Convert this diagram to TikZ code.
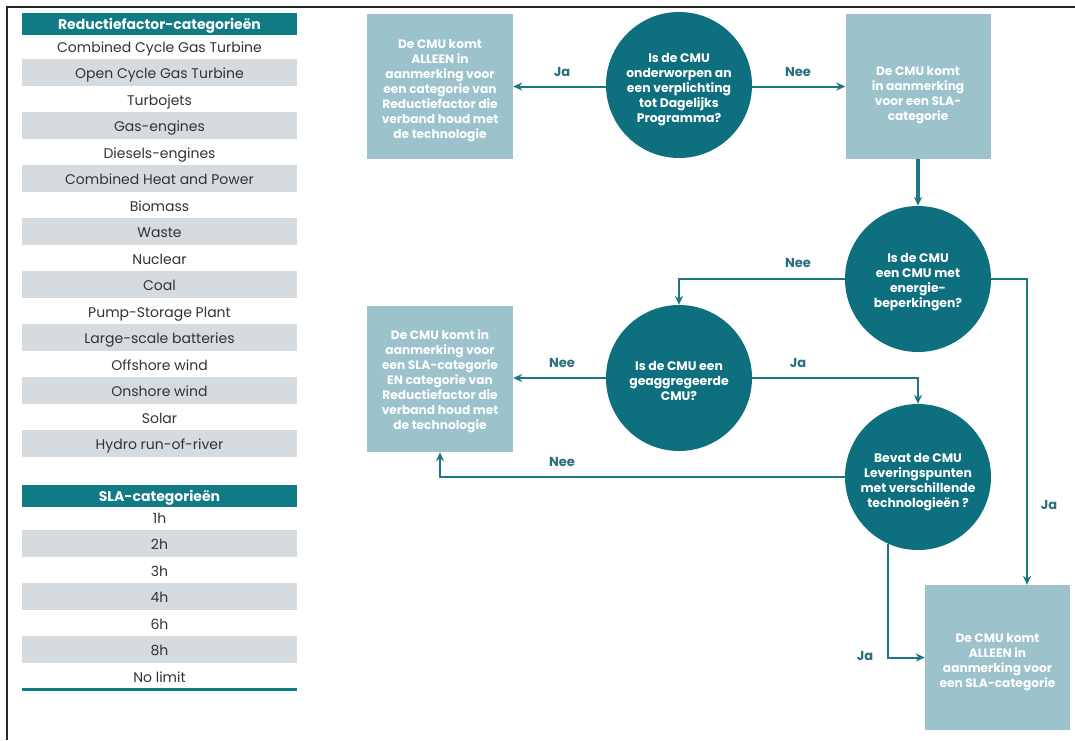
\documentclass[tikz,border=0pt]{standalone}
\usepackage{fontspec}
\setmainfont{Poppins}
\usepackage{tikz}
\usetikzlibrary{positioning,calc,shapes,arrows.meta}

\definecolor{tealdark}{HTML}{0E6F7E}
\definecolor{tealline}{HTML}{1B7686}
\definecolor{boxblue}{HTML}{9CC2CB}
\definecolor{rowgray}{HTML}{D6DBE0}
\definecolor{headteal}{HTML}{107A85}
\definecolor{labteal}{HTML}{2A6F7D}
\definecolor{rowtext}{HTML}{333333}

% extra room above the first line of a flowchart text
\newcommand{\flowgap}[1]{\rule{0pt}{#1}}

\begin{document}
\begin{tikzpicture}[x=1pt, y=-1pt,
	question/.style={circle, fill=tealdark, text=white, minimum size=146pt, inner sep=0pt, align=center, font=\fontsize{12.4}{15}\selectfont\bfseries},
	answer/.style={rectangle, fill=boxblue, text=white, minimum width=146pt, minimum height=145pt, inner sep=0pt, align=center, font=\fontsize{12.2}{15}\selectfont\bfseries},
	tabhead/.style={fill=headteal, text=white, minimum width=275pt, minimum height=22pt, inner sep=0pt, text height=12pt, text depth=1pt, font=\fontsize{14}{16}\selectfont\bfseries},
	tabrow/.style={minimum width=275pt, minimum height=26.5pt, inner sep=0pt, text height=13pt, text depth=0.5pt, text=rowtext, font=\fontsize{14}{16}\selectfont},
	tabgray/.style={tabrow, fill=rowgray},
	flow/.style={draw=tealline, line width=2pt, ->},
	yesno/.style={text=labteal, font=\fontsize{13}{15}\selectfont\bfseries},
	>={Stealth[length=9pt, width=8pt]}
]
	\fill[white] (0,0) rectangle (1075,740);
	\useasboundingbox (0,0) rectangle (1075,740);
	\draw[line width=1.5pt, black!85] (1075,7) -- (7,7) -- (7,740);

	% reductiefactor table
	\node [tabhead] (rfhead) at (159.5, 24) {Reductiefactor-categorieën};
	\node [tabrow] (rf1) at (159.5, 45.75) {Combined Cycle Gas Turbine};
	\node [tabgray] (rf2) at (159.5, 72.25) {Open Cycle Gas Turbine};
	\node [tabrow] (rf3) at (159.5, 98.75) {Turbojets};
	\node [tabgray] (rf4) at (159.5, 125.25) {Gas-engines};
	\node [tabrow] (rf5) at (159.5, 151.75) {Diesels-engines};
	\node [tabgray] (rf6) at (159.5, 178.25) {Combined Heat and Power};
	\node [tabrow] (rf7) at (159.5, 204.75) {Biomass};
	\node [tabgray] (rf8) at (159.5, 231.25) {Waste};
	\node [tabrow] (rf9) at (159.5, 257.75) {Nuclear};
	\node [tabgray] (rf10) at (159.5, 284.25) {Coal};
	\node [tabrow] (rf11) at (159.5, 310.75) {Pump-Storage Plant};
	\node [tabgray] (rf12) at (159.5, 337.25) {Large-scale batteries};
	\node [tabrow] (rf13) at (159.5, 363.75) {Offshore wind};
	\node [tabgray] (rf14) at (159.5, 390.25) {Onshore wind};
	\node [tabrow] (rf15) at (159.5, 416.75) {Solar};
	\node [tabgray] (rf16) at (159.5, 443.25) {Hydro run-of-river};

	% SLA table
	\node [tabhead, minimum height=22.5pt] (slahead) at (159.5, 496) {SLA-categorieën};
	\node [tabrow] (sla1) at (159.5, 517) {1h};
	\node [tabgray] (sla2) at (159.5, 543.5) {2h};
	\node [tabrow] (sla3) at (159.5, 570) {3h};
	\node [tabgray] (sla4) at (159.5, 596.5) {4h};
	\node [tabrow] (sla5) at (159.5, 623) {6h};
	\node [tabgray] (sla6) at (159.5, 649.5) {8h};
	\node [tabrow] (sla7) at (159.5, 676) {No limit};
	\draw[headteal, line width=3.5pt] (sla7.south west) -- (sla7.south east);

	% flowchart
	\node [question] (circ1) at (679, 85) {\flowgap{19pt}Is de CMU\\onderworpen an\\een verplichting\\tot Dagelijks\\Programma?};
	\node [answer] (boxA) at (440, 86.5) {\flowgap{18pt}De CMU komt\\ALLEEN in\\aanmerking voor\\een categorie van\\Reductiefactor die\\verband houd met\\de technologie};
	\node [answer, minimum width=145pt] (boxB) at (918, 86.5) {\flowgap{27pt}De CMU komt\\in aanmerking\\voor een SLA-\\categorie};
	\node [question] (circ2) at (918, 279) {\flowgap{15pt}Is de CMU\\een CMU met\\energie-\\beperkingen?};
	\node [question] (circ3) at (679, 378) {\flowgap{15pt}Is de CMU een\\geaggregeerde\\CMU?};
	\node [answer, minimum height=146pt] (boxD) at (440, 379) {\flowgap{15pt}De CMU komt in\\aanmerking voor\\een SLA-categorie\\EN categorie van\\Reductiefactor die\\verband houd met\\de technologie};
	\node [question] (circ4) at (918, 477) {\flowgap{19pt}Bevat de CMU\\Leveringspunten\\met verschillende\\technologieën ?};
	\node [answer, minimum width=145pt] (boxC) at (997.5, 657.5) {\flowgap{18pt}De CMU komt\\ALLEEN in\\aanmerking voor\\een SLA-categorie};

	\path [flow] (circ1.west |- boxA.east) -- (boxA.east);
	\path [flow] (circ1.east |- boxB.west) -- (boxB.west);
	\path [flow, line width=3.5pt] (boxB.south) -- (circ2.north);
	\path [flow] (circ2.west) -| (circ3.north);
	\path [flow] (circ2.east) -| ([xshift=29.5pt]boxC.north);
	\path [flow] (circ3.west) -- (circ3.west -| boxD.east);
	\path [flow] (circ3.east) -| (circ4.north);
	\path [flow] (circ4.west) -| (boxD.south);
	\path [flow] (circ4.246) |- (boxC.west);

	\node [yesno] (ja1) at (562, 72) {Ja};
	\node [yesno] (nee1) at (798, 72) {Nee};
	\node [yesno] (nee2) at (798, 263) {Nee};
	\node [yesno] (ja2) at (1049, 505) {Ja};
	\node [yesno] (nee3) at (562, 363) {Nee};
	\node [yesno] (ja3) at (798, 363) {Ja};
	\node [yesno] (nee4) at (562, 462) {Nee};
	\node [yesno] (ja4) at (865, 656) {Ja};
\end{tikzpicture}
\end{document}
